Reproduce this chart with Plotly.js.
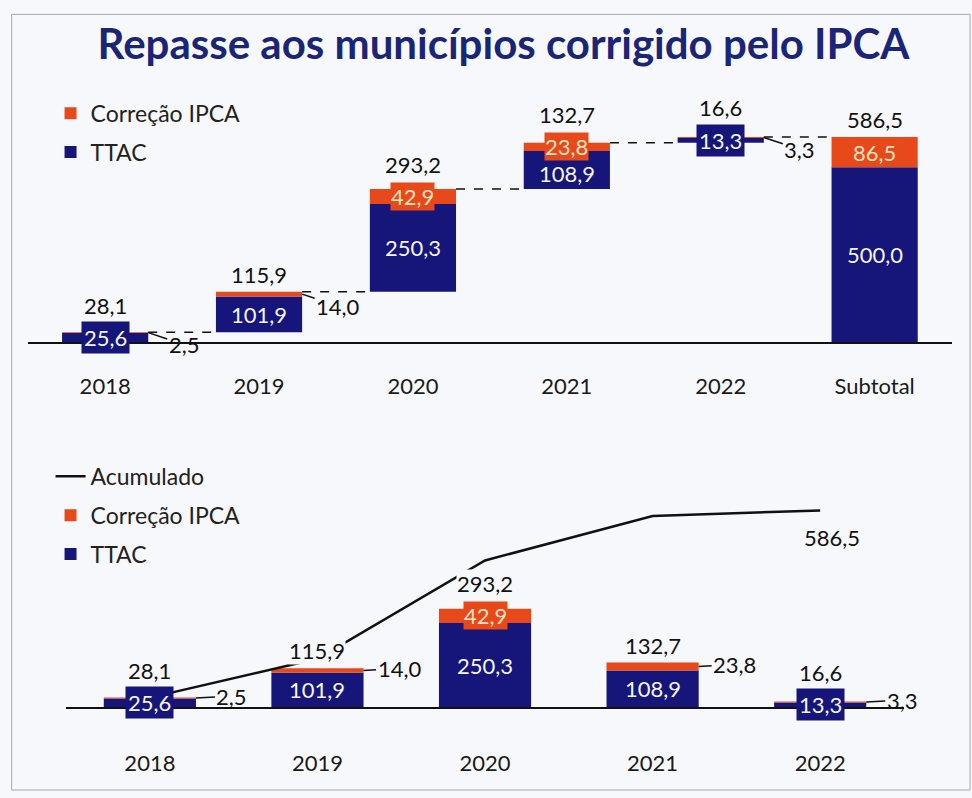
<!DOCTYPE html>
<html>
<head>
<meta charset="utf-8">
<script src="https://cdn.plot.ly/plotly-3.0.1.min.js"></script>
<style>
  body { margin: 0; background: #f7f8fb; }
  #grafico { width: 972px; height: 798px; }
</style>
</head>
<body>
<div id="grafico"></div>
<script>
// valores (R$ milhoes)
var anos = ['2018', '2019', '2020', '2021', '2022'];
var catTopo = ['2018', '2019', '2020', '2021', '2022', 'Subtotal'];
var ttac = [25.6, 101.9, 250.3, 108.9, 13.3];
var ipca = [2.5, 14.0, 42.9, 23.8, 3.3];
var totalAno = [28.1, 115.9, 293.2, 132.7, 16.6];
var acumulado = [28.1, 144.0, 437.2, 569.9, 586.5];
var subTtac = 500.0;
var subIpca = 86.5;
var subTotal = 586.5;

var azul = '#16157a';
var laranja = '#e8491a';
var fundo = '#f7f8fb';
var fonte = 'Lato, "Open Sans", sans-serif';

function fmt(v) {
    return v.toFixed(1).replace('.', ',');
}

// cascata de cima: base de cada ano = acumulado anterior
var baseTopo = [0].concat(acumulado.slice(0, 4)).concat([0]);
var ttacTopo = ttac.concat([subTtac]);
var ipcaTopo = ipca.concat([subIpca]);
var totalTopo = totalAno.concat([subTotal]);
var baseIpcaTopo = baseTopo.map(function (b, i) { return b + ttacTopo[i]; });

var ttacCima = {
    type: 'bar', x: catTopo, y: ttacTopo, base: baseTopo,
    name: 'TTAC', marker: { color: azul }, width: 0.56,
    xaxis: 'x', yaxis: 'y', legend: 'legend', legendrank: 2, legendgroup: 'a1',
    hoverinfo: 'x+y'
};
var ipcaCima = {
    type: 'bar', x: catTopo, y: ipcaTopo, base: baseIpcaTopo,
    name: 'Correção IPCA', marker: { color: laranja }, width: 0.56,
    xaxis: 'x', yaxis: 'y', legend: 'legend', legendrank: 1, legendgroup: 'a2',
    hoverinfo: 'x+y'
};

// barras empilhadas de baixo
var ttacBaixo = {
    type: 'bar', x: anos, y: ttac, base: anos.map(function () { return 0; }),
    name: 'TTAC', marker: { color: azul }, width: 0.55,
    xaxis: 'x2', yaxis: 'y2', legend: 'legend2', legendrank: 3, legendgroup: 'b3',
    hoverinfo: 'x+y'
};
var ipcaBaixo = {
    type: 'bar', x: anos, y: ipca, base: ttac,
    name: 'Correção IPCA', marker: { color: laranja }, width: 0.55,
    xaxis: 'x2', yaxis: 'y2', legend: 'legend2', legendrank: 2, legendgroup: 'b2',
    hoverinfo: 'x+y'
};
var linhaAcum = {
    type: 'scatter', mode: 'lines', x: anos, y: acumulado,
    name: 'Acumulado', line: { color: '#111', width: 2.5 },
    xaxis: 'x2', yaxis: 'y2', legend: 'legend2', legendrank: 1, legendgroup: 'b1'
};

var annotations = [];
var shapes = [];

// x das anotacoes pelo indice da categoria ('2018' seria lido como numero)
// k = pixels por unidade do eixo, so para afastar os rotulos entre si
function rotulos(n, bases, vt, vi, xa, ya, limiteIpca, meia, k, ayFora) {
    for (var i = 0; i < n; i++) {
        var topo = bases[i] + vt[i] + vi[i];
        var caixa = vt[i] < 40;
        var dentro = vi[i] >= limiteIpca;
        var dist = Infinity;
        if (caixa) dist = vt[i] / 2 + vi[i];
        if (dentro) dist = Math.min(dist, vi[i] / 2);
        var folga = dist === Infinity ? 0 : Math.max(0, 15 - dist * k);
        annotations.push({
            x: i, y: topo, xref: xa, yref: ya, text: fmt(vt[i] + vi[i]),
            showarrow: false, yanchor: 'bottom', yshift: 3 + folga,
            bgcolor: fundo, borderpad: 0,
            font: { family: fonte, size: 22, color: '#111' }
        });
        // desce o rotulo do TTAC se a caixa do IPCA invadir
        var desce = 0;
        if (dentro && !caixa) {
            desce = Math.max(0, (14 - vi[i] / 2 * k) + 13 - vt[i] / 2 * k);
        }
        annotations.push({
            x: i, y: bases[i] + vt[i] / 2, xref: xa, yref: ya, text: fmt(vt[i]),
            showarrow: false, bgcolor: caixa ? azul : 'rgba(0,0,0,0)', borderpad: 2,
            yshift: -desce,
            font: { family: fonte, size: 22, color: '#f4f4fa' }
        });
        var yIpca = bases[i] + vt[i] + vi[i] / 2;
        if (dentro) {
            annotations.push({
                x: i, y: yIpca, xref: xa, yref: ya, text: fmt(vi[i]),
                showarrow: false, bgcolor: laranja, borderpad: 0,
                font: { family: fonte, size: 22, color: '#f9e3c2' }
            });
        } else {
            annotations.push({
                x: i + meia, y: yIpca, xref: xa, yref: ya, text: fmt(vi[i]),
                showarrow: true, arrowhead: 0, arrowwidth: 1.5, arrowcolor: '#111',
                ax: 36, ay: ayFora, standoff: 0,
                font: { family: fonte, size: 22, color: '#111' }
            });
        }
    }
}

rotulos(catTopo.length, baseTopo, ttacTopo, ipcaTopo, 'x', 'y', 20, 0.28, 242 / 692, 12);
rotulos(anos.length, anos.map(function () { return 0; }), ttac, ipca, 'x2', 'y2', 30, 0.275, 227 / 676, -2);

// conectores tracejados da cascata
for (var i = 0; i < 5; i++) {
    shapes.push({
        type: 'line', xref: 'x', yref: 'y',
        x0: i + 0.28, x1: i + 1 - 0.28, y0: acumulado[i], y1: acumulado[i],
        line: { color: '#111', width: 1.5, dash: 'dash' }
    });
}

annotations.push({
    x: 4, y: acumulado[4], xref: 'x2', yref: 'y2', text: fmt(acumulado[4]),
    showarrow: false, yanchor: 'top', yshift: -12, xshift: 12,
    font: { family: fonte, size: 22, color: '#111' }
});

// moldura do slide
shapes.push({
    type: 'rect', xref: 'paper', yref: 'paper', x0: 0.012, x1: 0.998, y0: 0.01, y1: 0.982,
    line: { color: '#a6a6a6', width: 1 }
});

var eixoX = {
    type: 'category', showline: true, linecolor: '#111', linewidth: 1.5,
    showgrid: false, zeroline: false, ticks: '', fixedrange: true,
    tickfont: { family: fonte, size: 22, color: '#1a1a1a' }
};

var layout = {
    width: 972, height: 798,
    paper_bgcolor: fundo, plot_bgcolor: 'rgba(0,0,0,0)',
    margin: { l: 0, r: 0, t: 0, b: 0 },
    barmode: 'overlay', separators: ',.',
    showlegend: true,
    title: {
        text: '<b>Repasse aos municípios corrigido pelo IPCA</b>',
        font: { family: fonte, size: 42, color: '#1a2578' },
        x: 0.518, xanchor: 'center', y: 0.945, yanchor: 'middle'
    },
    xaxis: Object.assign({}, eixoX, {
        domain: [0.029, 0.979], anchor: 'y', range: [-0.5, 5.5], ticklabelstandoff: 24
    }),
    yaxis: { domain: [0.5714, 0.8747], range: [0, 692], visible: false, fixedrange: true },
    xaxis2: Object.assign({}, eixoX, {
        domain: [0.068, 0.930], anchor: 'y2', range: [-0.5, 4.5], ticklabelstandoff: 36
    }),
    yaxis2: { domain: [0.114, 0.398], range: [0, 676], visible: false, fixedrange: true },
    legend: {
        x: 0.052, y: 0.885, xanchor: 'left', yanchor: 'top',
        traceorder: 'grouped', tracegroupgap: 6, bgcolor: 'rgba(0,0,0,0)',
        font: { family: fonte, size: 23, color: '#222' }
    },
    legend2: {
        x: 0.052, y: 0.43, xanchor: 'left', yanchor: 'top',
        traceorder: 'grouped', tracegroupgap: 6, bgcolor: 'rgba(0,0,0,0)',
        font: { family: fonte, size: 23, color: '#222' }
    },
    annotations: annotations,
    shapes: shapes
};

Plotly.newPlot('grafico', [ttacCima, ipcaCima, ttacBaixo, ipcaBaixo, linhaAcum], layout,
    { displayModeBar: false, staticPlot: true });
</script>
</body>
</html>
